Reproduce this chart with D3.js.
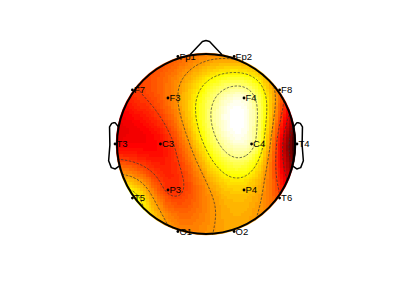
<!DOCTYPE html>
<html>
<head>
<meta charset="utf-8">
<script src="https://cdn.jsdelivr.net/npm/d3@7"></script>
<style>
body { margin: 0; background: #fff; }
svg { display: block; }
</style>
</head>
<body>
<script>
// 10-20 montage, polar coords (deg from nose, + to the right; radius in head units)
const channels = ["Fp1", "Fp2", "F7", "F3", "F4", "F8", "T3", "C3", "C4", "T4", "T5", "P3", "P4", "T6", "O1", "O2"];
const theta = [-18, 18, -54, -39.9, 39.9, 54, -90, -90, 90, 90, -126, -140.1, 140.1, 126, -162, 162];
const radius = [0.511, 0.511, 0.511, 0.333, 0.333, 0.511, 0.511, 0.256, 0.256, 0.511, 0.511, 0.333, 0.333, 0.511, 0.511, 0.511];
// potential at each channel (uV)
const values = [0.0, 0.6, -0.5, 0.3, 3.8, 0.2, -1.2, -1.0, 3.4, -4.0, 2.4, -0.5, 1.4, -0.3, 0.6, 1.0];

const width = 400, height = 299;
const cx = 206, cy = 144;
const sx = 178, sy = 180; // px per head unit
const nGrid = 67, gMin = -0.52, gMax = 0.52;

const px = x => cx + x * sx;
const py = y => cy - y * sy;

// electrode cartesian coords
const ex = theta.map((t, i) => radius[i] * Math.sin(t * Math.PI / 180));
const ey = theta.map((t, i) => radius[i] * Math.cos(t * Math.PI / 180));

// biharmonic spline (griddata 'v4')
function green(d) { return d === 0 ? 0 : d * d * (Math.log(d) - 1); }
const n = channels.length;
const A = d3.range(n).map(i => d3.range(n).map(j => green(Math.hypot(ex[i] - ex[j], ey[i] - ey[j]))));
const w = solve(A, values.slice());
function solve(M, b) {
	const m = M.map(r => r.slice());
	const k = b.length;
	for (let c = 0; c < k; c++) {
		let p = c;
		for (let r = c + 1; r < k; r++) if (Math.abs(m[r][c]) > Math.abs(m[p][c])) p = r;
		[m[c], m[p]] = [m[p], m[c]];
		[b[c], b[p]] = [b[p], b[c]];
		for (let r = c + 1; r < k; r++) {
			const f = m[r][c] / m[c][c];
			for (let q = c; q < k; q++) m[r][q] -= f * m[c][q];
			b[r] -= f * b[c];
		}
	}
	const x = new Array(k).fill(0);
	for (let r = k - 1; r >= 0; r--) {
		let s = b[r];
		for (let q = r + 1; q < k; q++) s -= m[r][q] * x[q];
		x[r] = s / m[r][r];
	}
	return x;
}
function interp(x, y) {
	let s = 0;
	for (let j = 0; j < n; j++) s += w[j] * green(Math.hypot(x - ex[j], y - ey[j]));
	return s;
}

// grid (row 0 = top)
const step = (gMax - gMin) / (nGrid - 1);
const grid = new Array(nGrid * nGrid);
let absmax = 0, zmin = Infinity, zmax = -Infinity;
for (let j = 0; j < nGrid; j++) {
	for (let i = 0; i < nGrid; i++) {
		const x = gMin + i * step, y = gMax - j * step;
		const v = interp(x, y);
		grid[i + j * nGrid] = v;
		if (Math.hypot(x, y) <= 0.511) {
			absmax = Math.max(absmax, Math.abs(v));
			zmin = Math.min(zmin, v);
			zmax = Math.max(zmax, v);
		}
	}
}

// MATLAB hot(64)
function hot(t) {
	const k = Math.max(0, Math.min(63, Math.floor(t * 64)));
	const r = Math.min(1, (k + 1) / 24);
	const g = Math.max(0, Math.min(1, (k + 1 - 24) / 24));
	const b = Math.max(0, Math.min(1, (k + 1 - 48) / 16));
	return [r * 255, g * 255, b * 255];
}
const color = d3.scaleLinear().domain([-absmax, absmax]).range([0, 0.9999]).clamp(true);

const canvas = document.createElement("canvas");
canvas.width = nGrid;
canvas.height = nGrid;
const ctx = canvas.getContext("2d");
const img = ctx.createImageData(nGrid, nGrid);
grid.forEach((v, k) => {
	const [r, g, b] = hot(color(v));
	img.data[k * 4] = r;
	img.data[k * 4 + 1] = g;
	img.data[k * 4 + 2] = b;
	img.data[k * 4 + 3] = 255;
});
ctx.putImageData(img, 0, 0);

const svg = d3.create("svg")
	.attr("width", width)
	.attr("height", height);

svg.append("clipPath")
	.attr("id", "head")
	.append("ellipse")
	.attr("cx", cx).attr("cy", cy)
	.attr("rx", 0.507 * sx).attr("ry", 0.507 * sy);

const map = svg.append("g").attr("clip-path", "url(#head)");

map.append("image")
	.attr("href", canvas.toDataURL())
	.attr("x", px(gMin - step / 2))
	.attr("y", py(gMax + step / 2))
	.attr("width", (gMax - gMin + step) * sx)
	.attr("height", (gMax - gMin + step) * sy)
	.attr("preserveAspectRatio", "none")
	.style("image-rendering", "pixelated");

// contours
const levels = d3.range(1, 7).map(k => zmin + (zmax - zmin) * k / 7);
const contours = d3.contours().size([nGrid, nGrid]).thresholds(levels)(grid);
const proj = d3.geoTransform({
	point(x, y) {
		this.stream.point(px(gMin + (x - 0.5) * step), py(gMax - (y - 0.5) * step));
	}
});
map.append("g")
	.attr("fill", "none")
	.attr("stroke", "#333")
	.attr("stroke-width", 0.7)
	.attr("stroke-dasharray", "2.5,1.5")
	.selectAll()
	.data(contours)
	.join("path")
	.attr("d", d3.geoPath(proj));

// head outline, nose, ears
const line = d3.line().x(d => px(d[0])).y(d => py(d[1]));
svg.append("ellipse")
	.attr("cx", cx).attr("cy", cy)
	.attr("rx", 0.5 * sx).attr("ry", 0.5 * sy)
	.attr("fill", "none")
	.attr("stroke", "#000")
	.attr("stroke-width", 2);

const nose = [[0.09, 0.496], [0.02, 0.57], [0, 0.575], [-0.02, 0.57], [-0.09, 0.496]];
const q = 0.04;
const earX = [0.492, 0.510, 0.518, 0.5299, 0.5419, 0.54, 0.547, 0.532, 0.510, 0.484];
const earY = [q + 0.0555, q + 0.0775, q + 0.0783, q + 0.0746, q + 0.0555, -0.0055, -0.0932, -0.1313, -0.1384, -0.1199];
const outline = svg.append("g")
	.attr("fill", "none")
	.attr("stroke", "#000")
	.attr("stroke-width", 1.5)
	.attr("stroke-linejoin", "round");
outline.append("path").attr("d", line(nose));
outline.append("path").attr("d", line(earX.map((x, i) => [x, earY[i]])));
outline.append("path").attr("d", line(earX.map((x, i) => [-x, earY[i]])));

// electrodes
const elec = svg.append("g");
elec.selectAll("circle")
	.data(channels)
	.join("circle")
	.attr("cx", (d, i) => px(ex[i]))
	.attr("cy", (d, i) => py(ey[i]))
	.attr("r", 1.4)
	.attr("fill", "#000");
elec.selectAll("text")
	.data(channels)
	.join("text")
	.attr("x", (d, i) => px(ex[i]) + 1.5)
	.attr("y", (d, i) => py(ey[i]))
	.attr("dy", "0.36em")
	.attr("font-family", "Liberation Sans, Arial, sans-serif")
	.attr("font-size", 9.5)
	.attr("fill", "#000")
	.text(d => d);

document.body.append(svg.node());
</script>
</body>
</html>
